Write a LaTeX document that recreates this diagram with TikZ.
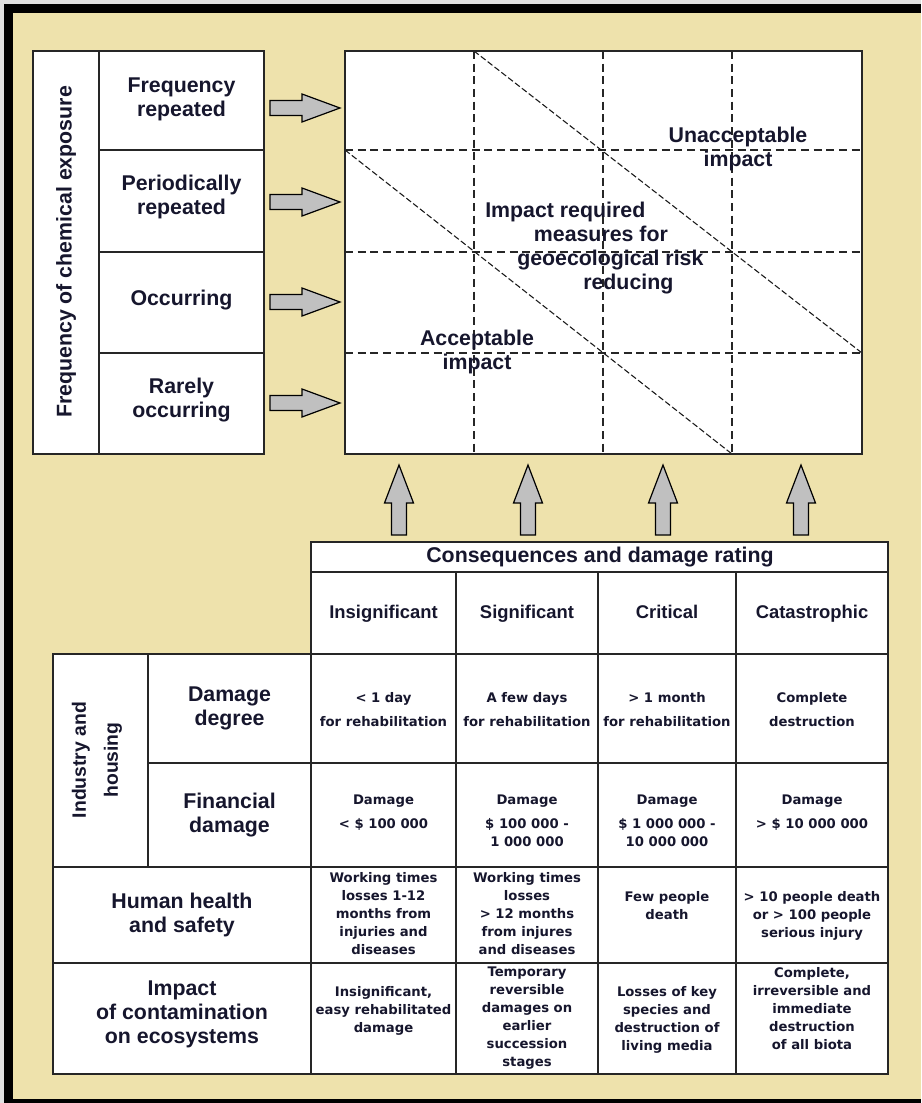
\documentclass[tikz,border=0pt]{standalone}
\usepackage{fontspec}
\setmainfont{Liberation Sans}
\newfontfamily\cellfont{DejaVu Sans}
\usetikzlibrary{positioning}

\definecolor{paper}{RGB}{238,226,172}
\definecolor{ink}{RGB}{22,22,45}
\definecolor{arrowgray}{RGB}{192,192,192}

\tikzset{
  big/.style={font=\bfseries\fontsize{16}{18}\selectfont,text=ink,align=center,inner sep=0pt},
  colhead/.style={font=\bfseries\fontsize{13.8}{16}\selectfont,text=ink,inner sep=0pt,anchor=base},
  cell/.style={font=\cellfont\bfseries\fontsize{9.9}{13.5}\selectfont,text=ink,align=center,anchor=north,inner sep=0pt},
  frame/.style={draw=black!85,line width=1.1pt},
  dashgrid/.style={draw=black!85,line width=1pt,dash pattern=on 6pt off 3.5pt},
  diag/.style={draw=black!90,line width=0.8pt,dash pattern=on 4.5pt off 2pt},
  blockarr/.style={fill=arrowgray,draw=black,line width=0.9pt,line join=miter},
  rarr/.pic={\draw[blockarr] (0,-7.5) -- (32,-7.5) -- (32,-14) -- (70,0) -- (32,14) -- (32,7.5) -- (0,7.5) -- cycle;},
  uarr/.pic={\draw[blockarr] (-7.5,0) -- (-7.5,-32) -- (-14.5,-32) -- (0,-70) -- (14.5,-32) -- (7.5,-32) -- (7.5,0) -- cycle;}
}

\begin{document}
\begin{tikzpicture}[x=0.75pt,y=-0.75pt]
\useasboundingbox (0,0) rectangle (921,1103);
\fill[black!12] (0,0) rectangle (921,1103);
\fill[black] (4,4) rectangle (921,1103);
\fill[paper] (13,13) rectangle (921,1099);

% frequency of exposure
\draw[frame,fill=white] (33,51) rectangle (264,454);
\draw[frame] (99,51) -- (99,454);
\foreach \y in {150,252,353} \draw[frame] (99,\y) -- (264,\y);
\node[big,rotate=90] (freq) at (66,252) {Frequency of chemical exposure};
\node[big] (f1) at (181.5,99) {Frequency\\repeated};
\node[big] (f2) at (181.5,197) {Periodically\\repeated};
\node[big] (f3) at (181.5,300) {Occurring};
\node[big] (f4) at (181.5,400) {Rarely\\occurring};
\foreach \y in {108,202,302,403} \pic at (270,\y) {rarr};

% risk matrix
\fill[white] (345,51) rectangle (862,454);
\foreach \x in {474,603,732} \draw[dashgrid] (\x,51) -- (\x,454);
\foreach \y in {150,252,353} \draw[dashgrid] (345,\y) -- (862,\y);
\draw[diag] (474,51) -- (862,353);
\draw[diag] (345,150) -- (732,454);
\draw[frame] (345,51) rectangle (862,454);
\node[big] (unacc) at (738,148.5) {Unacceptable\\impact};
\node[big,align=left,anchor=north west] (measures) at (485,202)
  {Impact required\\\hspace*{36.5pt}measures for\\\hspace*{24pt}geoecological risk\\\hspace*{73.5pt}reducing};
\node[big] (acc) at (477,351.5) {Acceptable\\impact};
\foreach \x in {399,528,663,801} \pic at (\x,535) {uarr};

% consequences table
\draw[frame,fill=white] (311,542) rectangle (888,572);
\draw[frame,fill=white] (311,572) -- (888,572) -- (888,1074) -- (53,1074) -- (53,654) -- (311,654) -- cycle;
\foreach \x in {456,598,736} \draw[frame] (\x,572) -- (\x,1074);
\draw[frame] (311,654) -- (311,1074);
\draw[frame] (148,654) -- (148,867);
\draw[frame] (311,654) -- (888,654);
\draw[frame] (148,763) -- (888,763);
\foreach \y in {867,963} \draw[frame] (53,\y) -- (888,\y);

\node[big] (conseq) at (600,557) {Consequences and damage rating};
\node[colhead] (h1) at (383.5,618) {Insignificant};
\node[colhead] (h2) at (527,618) {Significant};
\node[colhead] (h3) at (667,618) {Critical};
\node[colhead] (h4) at (812,618) {Catastrophic};

\node[big,font=\bfseries\fontsize{14.5}{24}\selectfont,rotate=90] (ind) at (97,760) {Industry and\\housing};
\node[big] (dd) at (229.5,708) {Damage\\degree};
\node[big] (fd) at (229.5,815) {Financial\\damage};
\node[big] (hh) at (182,914.5) {Human health\\and safety};
\node[big] (eco) at (182,1014) {Impact\\of contamination\\on ecosystems};

\node[cell] (dd1) at (383.5,692) {< 1 day\\[4.5pt]for rehabilitation};
\node[cell] (dd2) at (527,692) {A few days\\[4.5pt]for rehabilitation};
\node[cell] (dd3) at (667,692) {> 1 month\\[4.5pt]for rehabilitation};
\node[cell] (dd4) at (812,692) {Complete\\[4.5pt]destruction};

\node[cell] (fd1) at (383.5,795) {Damage\\[4pt]< \$ 100 000};
\node[cell] (fd2) at (527,795) {Damage\\[4pt]\$ 100 000 -\\1 000 000};
\node[cell] (fd3) at (667,795) {Damage\\[4pt]\$ 1 000 000 -\\10 000 000};
\node[cell] (fd4) at (812,795) {Damage\\[4pt]> \$ 10 000 000};

\node[cell] (hh1) at (383.5,872) {Working times\\losses 1-12\\months from\\injuries and\\diseases};
\node[cell] (hh2) at (527,872) {Working times\\losses\\> 12 months\\from injures\\and diseases};
\node[cell] (hh3) at (667,891) {Few people\\death};
\node[cell] (hh4) at (812,891) {> 10 people death\\or > 100 people\\serious injury};

\node[cell] (eco1) at (383.5,986) {Insignificant,\\easy rehabilitated\\damage};
\node[cell] (eco2) at (527,967) {Temporary\\reversible\\damages on\\earlier\\succession\\stages};
\node[cell] (eco3) at (667,986) {Losses of key\\species and\\destruction of\\living media};
\node[cell] (eco4) at (812,967) {Complete,\\irreversible and\\immediate\\destruction\\of all biota};
\end{tikzpicture}
\end{document}
